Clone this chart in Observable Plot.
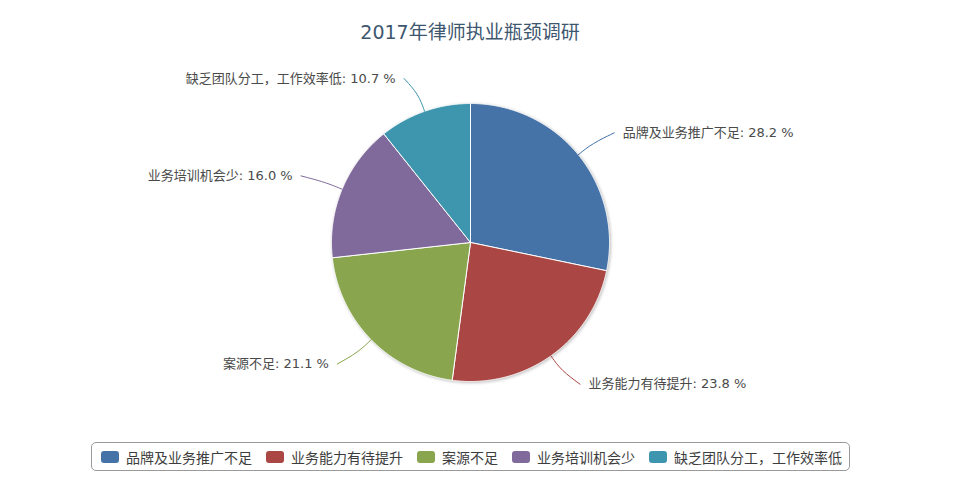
<!DOCTYPE html>
<html>
<head>
<meta charset="utf-8">
<script src="https://cdn.jsdelivr.net/npm/d3@7"></script>
<script src="https://cdn.jsdelivr.net/npm/@observablehq/plot@0.6"></script>
<style>
  html, body { margin: 0; padding: 0; background: #fff; }
  body { position: relative; width: 953px; height: 500px; overflow: hidden;
         font-family: "DejaVu Sans", "Noto Sans CJK SC", sans-serif; }
  #title { position: absolute; left: 0; top: 20px; width: 940px; text-align: center;
           font-size: 19px; line-height: 24px; color: #3E576F; }
  #chart { position: absolute; left: 0; top: 60px; }
  #legend { position: absolute; left: 91px; top: 442px; width: 748px; height: 27px;
            border: 1px solid #9a9a9a; border-radius: 5px; display: flex; align-items: center;
            padding-left: 9px; box-sizing: content-box; }
  .item { display: flex; align-items: center; margin-right: 14px; font-size: 14px; color: #3d3d3d; white-space: nowrap; }
  .sw { width: 18px; height: 12px; border-radius: 3px; margin-right: 7px; }
</style>
</head>
<body>
<div id="title"></div>
<div id="chart"></div>
<div id="legend"></div>
<script>
const title = "2017年律师执业瓶颈调研";
const categories = ["品牌及业务推广不足", "业务能力有待提升", "案源不足", "业务培训机会少", "缺乏团队分工，工作效率低"];
const values = [28.2, 23.8, 21.1, 16.0, 10.7];
const colors = ["#4572A7", "#AA4643", "#89A54E", "#80699B", "#3D96AE"];

document.getElementById("title").textContent = title;

const data = categories.map((name, i) => ({name, value: values[i]}));
const arcs = d3.pie().sort(null).value(d => d.value)(data);

// slice outlines in unit-circle data coordinates
const slicePts = [];
const connPts = [];
const labels = [];
for (const a of arcs) {
  const name = a.data.name;
  slicePts.push({name, x: 0, y: 0});
  const n = Math.ceil((a.endAngle - a.startAngle) / 0.004);
  for (let k = 0; k <= n; k++) {
    const t = a.startAngle + (a.endAngle - a.startAngle) * k / n;
    slicePts.push({name, x: Math.sin(t), y: Math.cos(t)});
  }
  slicePts.push({name, x: 0, y: 0});
  const m = (a.startAngle + a.endAngle) / 2;
  const s = Math.sin(m) >= 0 ? 1 : -1;
  const ex = 1.25 * Math.sin(m), ey = 1.25 * Math.cos(m);
  connPts.push({name, x: Math.sin(m), y: Math.cos(m)});
  connPts.push({name, x: 1.13 * Math.sin(m), y: 1.13 * Math.cos(m)});
  connPts.push({name, x: ex + s * 0.065, y: ey});
  labels.push({name, side: s, x: ex + s * 0.125, y: ey,
               text: `${name}: ${a.data.value.toFixed(1)} %`});
}

const W = 953, H = 380, R = 139, cx = 470, cy = 182;
const chart = Plot.plot({
  width: W, height: H,
  margin: 0,
  x: {domain: [-cx / R, (W - cx) / R], axis: null},
  y: {domain: [-(H - cy) / R, cy / R], axis: null},
  color: {domain: categories, range: colors},
  style: {fontFamily: '"DejaVu Sans", "Noto Sans CJK SC", sans-serif', background: "white"},
  marks: [
    Plot.line(slicePts, {x: "x", y: "y", z: "name", fill: "name", stroke: "white", strokeWidth: 1, strokeLinejoin: "round"}),
    Plot.line(connPts, {x: "x", y: "y", z: "name", stroke: "name", strokeWidth: 1, curve: "basis"}),
    Plot.text(labels.filter(d => d.side > 0), {x: "x", y: "y", text: "text", textAnchor: "start", fontSize: 13, fill: "#4a4a4a"}),
    Plot.text(labels.filter(d => d.side < 0), {x: "x", y: "y", text: "text", textAnchor: "end", fontSize: 13, fill: "#4a4a4a"})
  ]
});
const g = chart.querySelector('g[aria-label="line"]');
if (g) g.style.filter = "drop-shadow(1px 1px 1.5px rgba(0,0,0,0.25))";
document.getElementById("chart").appendChild(chart);

const legend = document.getElementById("legend");
categories.forEach((c, i) => {
  const it = document.createElement("div");
  it.className = "item";
  const sw = document.createElement("span");
  sw.className = "sw";
  sw.style.background = colors[i];
  const tx = document.createElement("span");
  tx.textContent = c;
  it.appendChild(sw); it.appendChild(tx);
  legend.appendChild(it);
});
</script>
</body>
</html>
